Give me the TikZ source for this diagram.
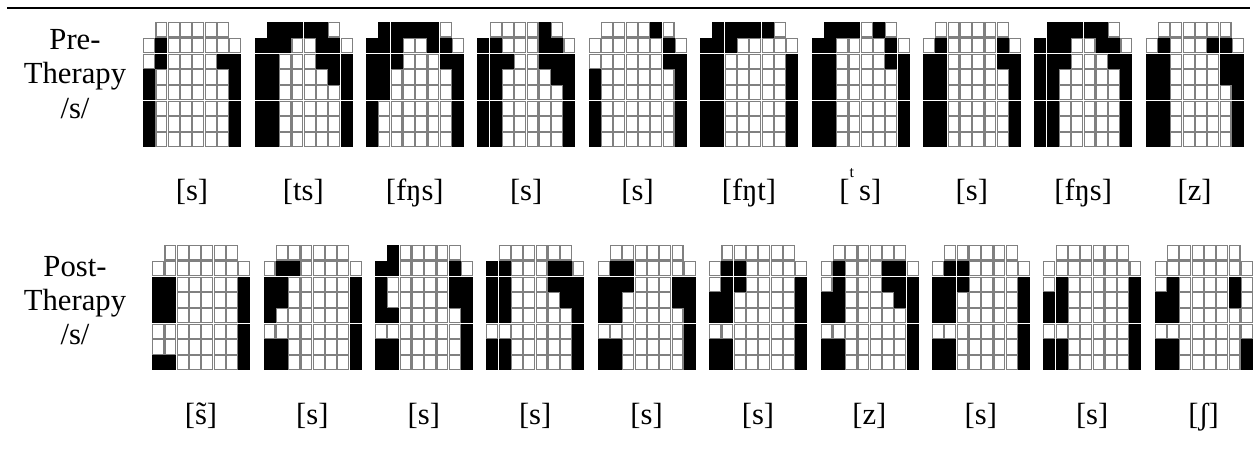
\documentclass[tikz,border=0pt]{standalone}
\usepackage{fontspec}
\setmainfont{Liberation Serif}
\tikzset{
  wcell/.style={draw=black!50, fill=white, line width=0.8pt},
  bcell/.style={draw=black, fill=black, line width=0.8pt},
  lab/.style={font=\fontsize{23}{26.5}\selectfont, inner sep=0pt, anchor=base},
}
\newcommand\epgdraw[3]{%
  \foreach \rowdata [count=\i] in {#3} {
    \foreach \v [count=\j] in \rowdata {
      \pgfmathsetmacro\cx{#1 + (\j-1+(\i==1))*12.3}
      \pgfmathsetmacro\cy{#2 + (\i-1)*15.7}
      \ifnum\v=1
        \path[bcell] (\cx+0.7,\cy+0.7) rectangle ++(10.9,14.3);
      \else
        \path[wcell] (\cx+0.7,\cy+0.7) rectangle ++(10.9,14.3);
      \fi
    }
  }
}
\begin{document}
\begin{tikzpicture}[x=0.75pt,y=-0.75pt]
\useasboundingbox (0,0) rectangle (1257,453);
\draw[line width=1.5pt] (7,8) coordinate (l0) -- (1250,8) coordinate (l1);

\node[lab] (pre1) at (75,50) {Pre-};
\node[lab] (pre2) at (75,84) {Therapy};
\node[lab] (pre3) at (75,118) {/s/};
\node[lab] (post1) at (75,276) {Post-};
\node[lab] (post2) at (75,310) {Therapy};
\node[lab] (post3) at (75,344) {/s/};

% ---- pre-therapy palates
\epgdraw{143}{22}{{0,0,0,0,0,0},{0,1,0,0,0,0,0,0},{0,1,0,0,0,0,1,1},{1,0,0,0,0,0,0,1},{1,0,0,0,0,0,0,1},{1,0,0,0,0,0,0,1},{1,0,0,0,0,0,0,1},{1,0,0,0,0,0,0,1}}
\epgdraw{254.4}{22}{{1,1,1,1,1,0},{1,1,1,0,0,1,1,0},{1,1,0,0,0,1,1,1},{1,1,0,0,0,0,1,1},{1,1,0,0,0,0,0,1},{1,1,0,0,0,0,0,1},{1,1,0,0,0,0,0,1},{1,1,0,0,0,0,0,1}}
\epgdraw{365.8}{22}{{1,1,1,1,1,0},{1,1,1,0,0,1,1,0},{1,1,1,0,0,0,1,1},{1,1,0,0,0,0,0,1},{1,1,0,0,0,0,0,1},{1,0,0,0,0,0,0,1},{1,0,0,0,0,0,0,1},{1,0,0,0,0,0,0,1}}
\epgdraw{477.2}{22}{{0,0,0,0,1,0},{1,1,0,0,0,1,1,0},{1,1,1,0,0,1,1,1},{1,1,0,0,0,0,1,1},{1,1,0,0,0,0,0,1},{1,1,0,0,0,0,0,1},{1,1,0,0,0,0,0,1},{1,1,0,0,0,0,0,1}}
\epgdraw{588.6}{22}{{0,0,0,0,1,0},{0,0,0,0,0,0,1,0},{0,0,0,0,0,0,1,1},{1,0,0,0,0,0,0,1},{1,0,0,0,0,0,0,1},{1,0,0,0,0,0,0,1},{1,0,0,0,0,0,0,1},{1,0,0,0,0,0,0,1}}
\epgdraw{700}{22}{{1,1,1,1,1,0},{1,1,1,0,0,0,0,0},{1,1,0,0,0,0,0,1},{1,1,0,0,0,0,0,1},{1,1,0,0,0,0,0,1},{1,1,0,0,0,0,0,1},{1,1,0,0,0,0,0,1},{1,1,0,0,0,0,0,1}}
\epgdraw{811.4}{22}{{1,1,1,0,1,0},{1,1,0,0,0,0,1,0},{1,1,0,0,0,0,1,1},{1,1,0,0,0,0,0,1},{1,1,0,0,0,0,0,1},{1,1,0,0,0,0,0,1},{1,1,0,0,0,0,0,1},{1,1,0,0,0,0,0,1}}
\epgdraw{922.8}{22}{{0,0,0,0,0,0},{0,1,0,0,0,0,1,0},{1,1,0,0,0,0,1,1},{1,1,0,0,0,0,0,1},{1,1,0,0,0,0,0,1},{1,1,0,0,0,0,0,1},{1,1,0,0,0,0,0,1},{1,1,0,0,0,0,0,1}}
\epgdraw{1034.2}{22}{{1,1,1,1,1,0},{1,1,1,0,0,1,1,0},{1,1,1,0,0,0,1,1},{1,1,0,0,0,0,0,1},{1,1,0,0,0,0,0,1},{1,1,0,0,0,0,0,1},{1,1,0,0,0,0,0,1},{1,1,0,0,0,0,0,1}}
\epgdraw{1145.6}{22}{{0,0,0,0,0,0},{0,1,0,0,0,1,1,0},{1,1,0,0,0,0,1,1},{1,1,0,0,0,0,1,1},{1,1,0,0,0,0,0,1},{1,1,0,0,0,0,0,1},{1,1,0,0,0,0,0,1},{1,1,0,0,0,0,0,1}}

% ---- post-therapy palates
\epgdraw{152}{245}{{0,0,0,0,0,0},{0,0,0,0,0,0,0,0},{1,1,0,0,0,0,0,1},{1,1,0,0,0,0,0,1},{1,1,0,0,0,0,0,1},{0,0,0,0,0,0,0,1},{0,0,0,0,0,0,0,1},{1,1,0,0,0,0,0,1}}
\epgdraw{263.4}{245}{{0,0,0,0,0,0},{0,1,1,0,0,0,0,0},{1,1,0,0,0,0,0,1},{1,1,0,0,0,0,0,1},{1,0,0,0,0,0,0,1},{0,0,0,0,0,0,0,1},{1,1,0,0,0,0,0,1},{1,1,0,0,0,0,0,1}}
\epgdraw{374.8}{245}{{1,0,0,0,0,0},{1,1,0,0,0,0,1,0},{1,0,0,0,0,0,1,1},{1,0,0,0,0,0,1,1},{1,1,0,0,0,0,0,1},{0,0,0,0,0,0,0,1},{1,1,0,0,0,0,0,1},{1,1,0,0,0,0,0,1}}
\epgdraw{486.2}{245}{{0,0,0,0,0,0},{1,1,0,0,0,1,1,0},{1,1,0,0,0,1,1,1},{1,1,0,0,0,0,1,1},{1,1,0,0,0,0,0,1},{0,0,0,0,0,0,0,1},{1,1,0,0,0,0,0,1},{1,1,0,0,0,0,0,1}}
\epgdraw{597.6}{245}{{0,0,0,0,0,0},{0,1,1,0,0,0,0,0},{1,1,1,0,0,0,1,1},{1,1,0,0,0,0,1,1},{1,1,0,0,0,0,0,1},{0,0,0,0,0,0,0,1},{1,1,0,0,0,0,0,1},{1,1,0,0,0,0,0,1}}
\epgdraw{709}{245}{{0,0,0,0,0,0},{0,1,1,0,0,0,0,0},{0,1,1,0,0,0,0,1},{1,1,0,0,0,0,0,1},{1,1,0,0,0,0,0,1},{0,0,0,0,0,0,0,1},{1,1,0,0,0,0,0,1},{1,1,0,0,0,0,0,1}}
\epgdraw{820.4}{245}{{0,0,0,0,0,0},{0,1,0,0,0,1,1,0},{0,1,0,0,0,1,1,1},{1,1,0,0,0,0,1,1},{1,1,0,0,0,0,0,1},{0,0,0,0,0,0,0,1},{1,1,0,0,0,0,0,1},{1,1,0,0,0,0,0,1}}
\epgdraw{931.8}{245}{{0,0,0,0,0,0},{0,1,1,0,0,0,0,0},{1,1,1,0,0,0,0,1},{1,1,0,0,0,0,0,1},{1,1,0,0,0,0,0,1},{0,0,0,0,0,0,0,1},{1,1,0,0,0,0,0,1},{1,1,0,0,0,0,0,1}}
\epgdraw{1043.2}{245}{{0,0,0,0,0,0},{0,0,0,0,0,0,0,0},{0,1,0,0,0,0,0,1},{1,1,0,0,0,0,0,1},{1,1,0,0,0,0,0,1},{0,0,0,0,0,0,0,1},{1,1,0,0,0,0,0,1},{1,1,0,0,0,0,0,1}}
\epgdraw{1154.6}{245}{{0,0,0,0,0,0},{0,0,0,0,0,0,0,0},{0,1,0,0,0,0,1,0},{1,1,0,0,0,0,1,0},{1,1,0,0,0,0,0,0},{0,0,0,0,0,0,0,0},{1,1,0,0,0,0,0,1},{1,1,0,0,0,0,0,1}}

% ---- labels
\node[lab] (a1) at (192,200) {[s]};
\node[lab] (a2) at (303.4,200) {[ts]};
\node[lab] (a3) at (414.8,200) {[fŋs]};
\node[lab] (a4) at (526.2,200) {[s]};
\node[lab] (a5) at (637.6,200) {[s]};
\node[lab] (a6) at (749,200) {[fŋt]};
\node[lab] (a7) at (860.4,200) {[\raisebox{0.75em}{\fontsize{12}{12}\selectfont t}\,s]};
\node[lab] (a8) at (971.8,200) {[s]};
\node[lab] (a9) at (1083.2,200) {[fŋs]};
\node[lab] (a10) at (1194.6,200) {[z]};

\node[lab] (b1) at (201,424) {[s̃]};
\node[lab] (b2) at (312.4,424) {[s]};
\node[lab] (b3) at (423.8,424) {[s]};
\node[lab] (b4) at (535.2,424) {[s]};
\node[lab] (b5) at (646.6,424) {[s]};
\node[lab] (b6) at (758,424) {[s]};
\node[lab] (b7) at (869.4,424) {[z]};
\node[lab] (b8) at (980.8,424) {[s]};
\node[lab] (b9) at (1092.2,424) {[s]};
\node[lab] (b10) at (1203.6,424) {[ʃ]};
\end{tikzpicture}
\end{document}
